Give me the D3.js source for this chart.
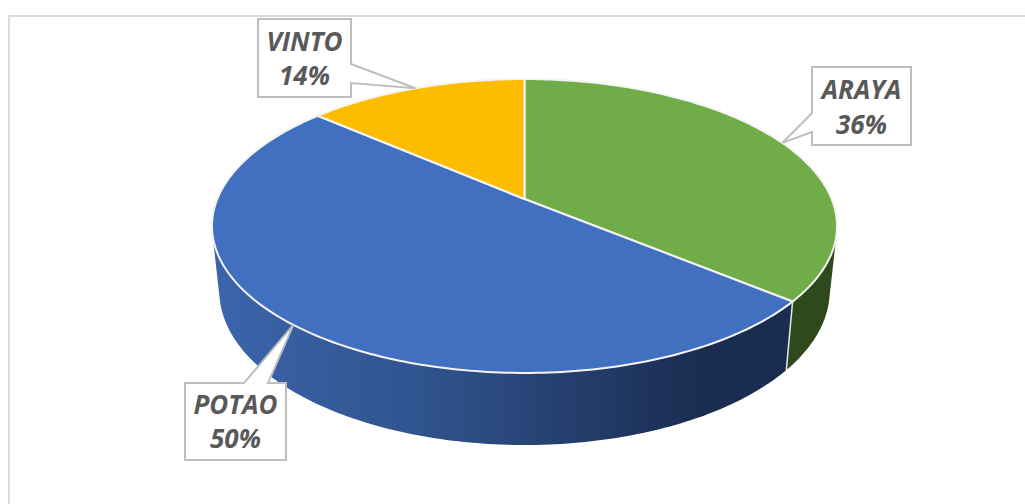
<!DOCTYPE html>
<html>
<head>
<meta charset="utf-8">
<script src="https://cdn.jsdelivr.net/npm/d3@7/dist/d3.min.js"></script>
<style>
html, body { margin: 0; padding: 0; background: #fff; overflow: hidden; }
.callout text { font-family: "Open Sans", sans-serif; font-weight: 700; font-style: italic; font-size: 26px; fill: #595959; text-anchor: middle; }
</style>
</head>
<body>
<svg class="chart"></svg>
<script>
var categories = ["ARAYA", "POTAO", "VINTO"];
var shares = [36.0, 50.4, 13.6];
var colors = ["#70ac48", "#4270c0", "#fcbd00"];

var width = 1025;
var height = 504;

// perspective disc: k tilts it, so the centre sits above the middle of the ellipse
var cx = 524.5;
var k = 0.1837;
var topFace = {y: 199, rx: 307.2, ry: 142};
var bottomFace = {y: 262.5, rx: 300, ry: 149};

// part of the rim that shows a wall, in radians from 12 o'clock
var wallStart = 104 * Math.PI / 180;
var wallEnd = 256 * Math.PI / 180;

// label box and text baselines, in the order of categories
var boxes = [
    {x: 812, y: 67, w: 99, h: 78, side: "left", a: 113, b: 132, line1: 99, line2: 134},
    {x: 185, y: 383, w: 101, h: 77, side: "top", a: 244, b: 268, line1: 414, line2: 448},
    {x: 258, y: 19, w: 93, h: 78, side: "right", a: 64, b: 83, line1: 51, line2: 85}
];

var chart = d3.select(".chart")
    .attr("width", width)
    .attr("height", height)
    .style("display", "block");

var defs = chart.append("defs");

var blueWall = defs.append("linearGradient")
    .attr("id", "blueWall")
    .attr("gradientUnits", "userSpaceOnUse")
    .attr("x1", 215).attr("x2", 790)
    .attr("y1", 0).attr("y2", 0);
blueWall.append("stop").attr("offset", "0").attr("stop-color", "#3c64ac");
blueWall.append("stop").attr("offset", "0.35").attr("stop-color", "#30548f");
blueWall.append("stop").attr("offset", "0.85").attr("stop-color", "#1a2c50");
blueWall.append("stop").attr("offset", "1").attr("stop-color", "#1a2c50");

var wallFill = {ARAYA: "#2e4a1c", POTAO: "url(#blueWall)"};

// chart frame, only the top and left edges fall inside the picture
chart.append("path")
    .attr("d", d3.line()([[9, height], [9, 16], [width, 16]]))
    .attr("fill", "none")
    .attr("stroke", "#dcdcdc")
    .attr("stroke-width", 2);

var pie = d3.pie()
    .sort(null)
    .value(function(d) { return d; });

var arcs = pie(shares);
var total = d3.sum(shares);
var percent = d3.format(".0%");

function rimPoint(face, angle) {
    var X = Math.sin(angle);
    var Y = -Math.cos(angle);
    var w = 1 - k * Y;
    return [cx + face.rx * X / w, face.y + face.ry * Y / w];
}

function rim(face, a0, a1) {
    var n = Math.max(2, Math.ceil(Math.abs(a1 - a0) * 60));
    return d3.range(n + 1).map(function(i) {
        return rimPoint(face, a0 + (a1 - a0) * i / n);
    });
}

var line = d3.line();

// walls first, the top face covers their upper edge
arcs.forEach(function(d, i) {
    var a0 = Math.max(d.startAngle, wallStart);
    var a1 = Math.min(d.endAngle, wallEnd);
    if (a1 <= a0) return;
    var pts = rim(topFace, a0, a1).concat(rim(bottomFace, a1, a0));
    chart.append("path")
        .attr("d", line(pts) + "Z")
        .attr("fill", wallFill[categories[i]]);
});

// white seam between the two walls
var seam = arcs[0].endAngle;
chart.append("path")
    .attr("d", line([rimPoint(topFace, seam), rimPoint(bottomFace, seam)]))
    .attr("stroke", "#e6e6e6")
    .attr("stroke-width", 1.5);

// top face slices
arcs.forEach(function(d, i) {
    var pts = [[cx, topFace.y]].concat(rim(topFace, d.startAngle, d.endAngle));
    chart.append("path")
        .attr("d", line(pts) + "Z")
        .attr("fill", colors[i])
        .attr("stroke", "#f4f4f4")
        .attr("stroke-width", 2)
        .attr("stroke-linejoin", "round");
});

// callouts, the pointer ends on the rim at the middle of its slice
arcs.forEach(function(d, i) {
    var b = boxes[i];
    var tip = rimPoint(topFace, (d.startAngle + d.endAngle) / 2);
    var r = b.x + b.w;
    var f = b.y + b.h;
    var pts;
    if (b.side == "left") {
        pts = [[b.x, b.y], [r, b.y], [r, f], [b.x, f], [b.x, b.b], tip, [b.x, b.a]];
    } else if (b.side == "right") {
        pts = [[b.x, b.y], [r, b.y], [r, b.a], tip, [r, b.b], [r, f], [b.x, f]];
    } else {
        pts = [[b.x, b.y], [b.a, b.y], tip, [b.b, b.y], [r, b.y], [r, f], [b.x, f]];
    }
    var g = chart.append("g").attr("class", "callout");
    g.append("path")
        .attr("d", line(pts) + "Z")
        .attr("fill", "#fff")
        .attr("stroke", "#bfbfbf")
        .attr("stroke-width", 2);
    g.append("text")
        .attr("x", b.x + b.w / 2)
        .attr("y", b.line1)
        .text(categories[i]);
    g.append("text")
        .attr("x", b.x + b.w / 2)
        .attr("y", b.line2)
        .text(percent(shares[i] / total));
});
</script>
</body>
</html>
